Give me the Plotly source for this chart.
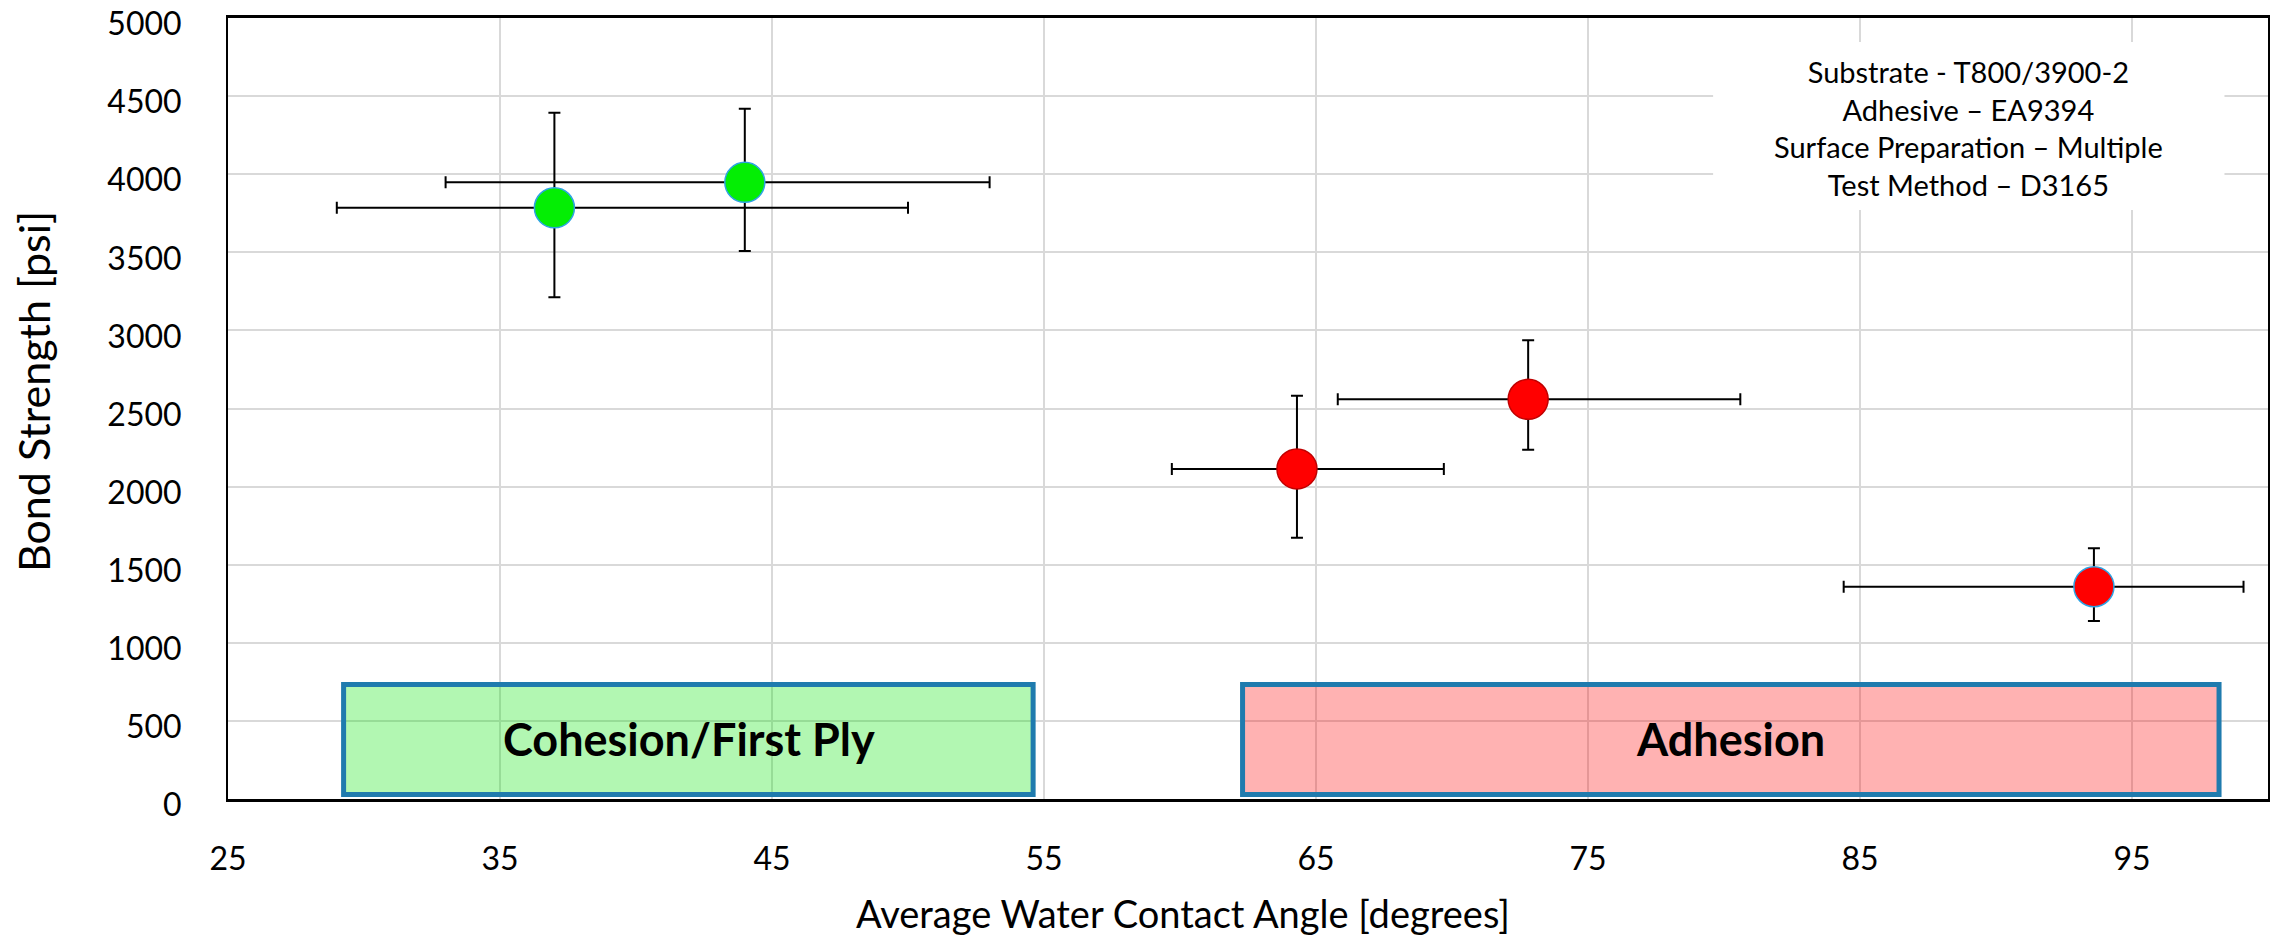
import plotly.graph_objects as go

# ---- data ----
green_x = [37.0, 44.0]
green_y = [3785, 3948]
green_x_plus = [13.0, 9.0]
green_x_minus = [8.0, 11.0]
green_y_plus = [609, 471]
green_y_minus = [573, 440]

red_x = [64.3, 72.8, 93.6]
red_y = [2113, 2559, 1359]
red_x_plus = [5.4, 7.8, 5.5]
red_x_minus = [4.6, 7.0, 9.2]
red_y_plus = [469, 378, 246]
red_y_minus = [440, 323, 219]

x_ticks = [25, 35, 45, 55, 65, 75, 85, 95]
y_ticks = [0, 500, 1000, 1500, 2000, 2500, 3000, 3500, 4000, 4500, 5000]

info_lines = ["Substrate - T800/3900-2", "Adhesive – EA9394",
              "Surface Preparation – Multiple", "Test Method – D3165"]

FONT = "Lato"

fig = go.Figure()

err_style = dict(color="black", thickness=2, width=6)

fig.add_trace(go.Scatter(
    x=green_x, y=green_y, mode="markers",
    marker=dict(size=40, color="#04EE04", line=dict(color="#2EA3E3", width=1.5)),
    error_x=dict(type="data", symmetric=False, array=green_x_plus, arrayminus=green_x_minus, **err_style),
    error_y=dict(type="data", symmetric=False, array=green_y_plus, arrayminus=green_y_minus, **err_style),
    showlegend=False, hoverinfo="x+y"))

fig.add_trace(go.Scatter(
    x=red_x, y=red_y, mode="markers",
    marker=dict(size=40, color="#FF0000",
                line=dict(color=["#C00000", "#C00000", "#2EA3E3"], width=1.5)),
    error_x=dict(type="data", symmetric=False, array=red_x_plus, arrayminus=red_x_minus, **err_style),
    error_y=dict(type="data", symmetric=False, array=red_y_plus, arrayminus=red_y_minus, **err_style),
    showlegend=False, hoverinfo="x+y"))

# region boxes
fig.add_shape(type="rect", xref="x", yref="y", x0=29.25, x1=54.6, y0=29, y1=733,
              fillcolor="rgba(0,230,0,0.30)", line=dict(color="#1F7BAE", width=5), layer="between")
fig.add_shape(type="rect", xref="x", yref="y", x0=62.3, x1=98.2, y0=29, y1=733,
              fillcolor="rgba(255,0,0,0.30)", line=dict(color="#1F7BAE", width=5), layer="between")
# white info box
fig.add_shape(type="rect", xref="x", yref="y", x0=79.6, x1=98.4, y0=3771, y1=4846,
              fillcolor="white", line=dict(width=0), layer="between")

fig.add_annotation(x=41.93, y=381, xref="x", yref="y", text="<b>Cohesion/First Ply</b>",
                   showarrow=False, font=dict(family=FONT, size=45, color="black"))
fig.add_annotation(x=80.25, y=381, xref="x", yref="y", text="<b>Adhesion</b>",
                   showarrow=False, font=dict(family=FONT, size=45, color="black"))
fig.add_annotation(x=89.0, y=4296, xref="x", yref="y", text="<br>".join(info_lines),
                   showarrow=False, align="center", font=dict(family=FONT, size=29, color="black"))

# axis titles
fig.add_annotation(x=(1183 - 228) / 2040, y=-(913 - 799) / 781, xref="paper", yref="paper",
                   xanchor="center", yanchor="middle",
                   text="Average Water Contact Angle [degrees]", showarrow=False,
                   font=dict(family=FONT, size=38, color="black"))
fig.add_annotation(x=-(228 - 33) / 2040, y=(799 - 392) / 781, xref="paper", yref="paper",
                   xanchor="center", yanchor="middle",
                   text="Bond Strength [psi]", showarrow=False, textangle=-90,
                   font=dict(family=FONT, size=43, color="black"))

fig.update_xaxes(range=[25, 100], tickvals=x_ticks, ticktext=[str(v) for v in x_ticks],
                 showgrid=True, gridcolor="#D9D9D9", gridwidth=2, zeroline=False,
                 showline=True, linecolor="black", linewidth=3, mirror=True,
                 ticks="", ticklabelstandoff=30, ticklabeloverflow="allow", automargin=False,
                 tickfont=dict(family=FONT, size=32, color="black"))
fig.update_yaxes(range=[0, 5000], tickvals=y_ticks, ticktext=[str(v) for v in y_ticks],
                 showgrid=True, gridcolor="#D9D9D9", gridwidth=2, zeroline=False,
                 showline=True, linecolor="black", linewidth=2, mirror=True,
                 ticks="", ticklabelstandoff=38, ticklabelshift=6,
                 ticklabeloverflow="allow", automargin=False,
                 tickfont=dict(family=FONT, size=32, color="black"))

fig.update_layout(width=2272, height=938, margin=dict(l=228, r=4, t=18, b=139),
                  plot_bgcolor="white", paper_bgcolor="white",
                  font=dict(family=FONT, color="black"))

fig.write_html("out.html")
